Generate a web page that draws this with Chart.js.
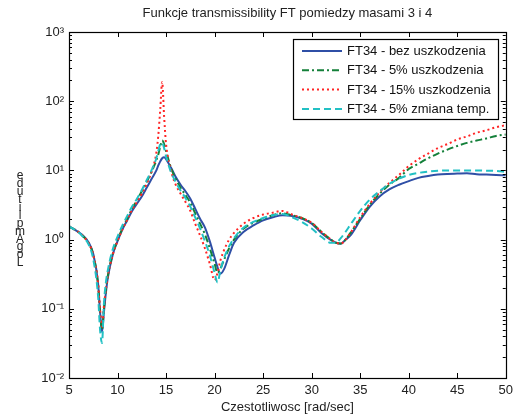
<!DOCTYPE html>
<html>
<head>
<meta charset="utf-8">
<script src="https://cdn.jsdelivr.net/npm/chart.js@4/dist/chart.umd.min.js"></script>
<style>
  body { margin: 0; background: #fff; }
  #wrap { width: 518px; height: 415px; }
</style>
</head>
<body>
<div id="wrap"><canvas id="_canvasc" width="518" height="415"></canvas></div>
<script>
	// ******************************************************** DATA

	var freq = [5, 5.5, 6, 6.5, 7, 7.5, 8, 8.2, 8.4, 8.6, 8.8, 9, 9.5, 10, 10.5, 11, 11.5, 12, 12.5, 13, 13.5, 14,
		14.2, 14.4, 14.6, 14.8, 15, 15.5, 16, 16.5, 17, 17.5, 18, 18.5, 19, 19.5, 20, 20.3, 20.6, 21, 21.5, 22,
		23, 24, 25, 26, 27, 28, 29, 30, 31, 32, 32.5, 33, 33.5, 34, 35, 36, 37, 38, 39, 40, 41, 42, 43, 44, 45,
		46, 47, 48, 49, 50];

	var ftBez = [1.55, 1.42, 1.28, 1.12, 0.92, 0.62, 0.23, 0.09, 0.046, 0.09, 0.17, 0.28, 0.6, 0.95, 1.4, 1.9, 2.6, 3.3, 4.2, 5.6, 7.5, 10,
		11.8, 13.5, 15, 15.5, 14.5, 11, 8, 6.2, 5, 3.9, 2.8, 2.0, 1.5, 0.95, 0.55, 0.4, 0.32, 0.38, 0.6, 0.9,
		1.3, 1.6, 1.9, 2.1, 2.25, 2.2, 2.0, 1.7, 1.25, 0.98, 0.9, 0.87, 1.0, 1.15, 1.9, 3.0, 4.2, 5.3, 6.2, 7.0, 7.8, 8.3, 8.7, 8.9, 9.0,
		9.1, 8.8, 8.7, 8.6, 8.5];

	var ft5 = [1.55, 1.42, 1.28, 1.1, 0.9, 0.6, 0.22, 0.09, 0.05, 0.1, 0.19, 0.3, 0.62, 0.98, 1.45, 2.0, 2.8, 3.7, 5.0, 6.8, 9.5, 14,
		17, 22, 27, 24, 19, 11, 7.5, 5.6, 4.4, 3.4, 2.4, 1.7, 1.2, 0.75, 0.45, 0.33, 0.38, 0.52, 0.75, 1.0,
		1.45, 1.75, 2.0, 2.25, 2.4, 2.25, 2.05, 1.75, 1.3, 1.0, 0.9, 0.88, 1.0, 1.25, 2.0, 3.2, 4.6, 6.2, 7.8, 10.5, 12.5, 15, 17.5, 20, 22.5,
		25, 27, 29, 31.5, 33];

	var ft15 = [1.55, 1.42, 1.28, 1.1, 0.9, 0.6, 0.23, 0.1, 0.055, 0.11, 0.19, 0.3, 0.6, 0.95, 1.4, 1.95, 2.7, 3.5, 4.6, 6.4, 9.5, 18,
		32, 75, 190, 60, 24, 10, 6.2, 4.6, 3.5, 2.6, 1.7, 1.15, 0.75, 0.45, 0.26, 0.33, 0.5, 0.72, 1.0, 1.25,
		1.7, 2.05, 2.3, 2.45, 2.6, 2.3, 2.05, 1.75, 1.3, 1.0, 0.9, 0.88, 1.0, 1.25, 2.1, 3.3, 4.8, 6.6, 8.6, 11.5, 14.5, 17.5, 21, 24, 28,
		31, 35, 38, 42, 45];

	var ftTemp = [1.55, 1.42, 1.27, 1.08, 0.86, 0.52, 0.15, 0.05, 0.032, 0.12, 0.24, 0.36, 0.72, 1.1, 1.6, 2.2, 3.0, 3.9, 5.2, 7.2, 10, 15,
		19, 24, 25, 21, 16, 9.5, 6.8, 5.1, 4.0, 3.0, 2.1, 1.45, 0.95, 0.6, 0.33, 0.24, 0.36, 0.55, 0.8, 1.05,
		1.5, 1.8, 2.05, 2.25, 2.35, 2.1, 1.8, 1.45, 1.1, 0.9, 0.9, 1.05, 1.3, 1.65, 2.6, 3.8, 5.0, 6.4, 7.6, 8.6, 9.2, 9.6, 9.9, 10, 10,
		10, 10, 9.9, 9.8, 9.5];

	var seriesNames = ["FT34 - bez uszkodzenia", "FT34 - 5% uszkodzenia", "FT34 - 15% uszkodzenia", "FT34 - 5% zmiana temp."];
	var xTicks = [5, 10, 15, 20, 25, 30, 35, 40, 45, 50];
	var yDecades = [-2, -1, 0, 1, 2, 3];

	var chartTitle = "Funkcje transmissibility FT pomiedzy masami 3 i 4";
	var xTitle = "Czestotliwosc [rad/sec]";
	var yTitle = "Log Amplitude";

	// ******************************************************** HELPERS

	var FONT = "'Liberation Sans', Arial, sans-serif";
	var SUP = {"0": "\u2070", "1": "\u00b9", "2": "\u00b2", "3": "\u00b3", "-": "\u207b"};

	function pts(vals) {
		return freq.map(function (f, i) { return {x: f, y: vals[i]}; });
	}

	function supText(n) {
		return String(n).split("").map(function (c) { return SUP[c]; }).join("");
	}

	// ticks inside the frame, frame, title, y label and legend box
	var matlabLook = {
		id: 'matlabLook',
		afterDatasetsDraw: function (chart) {
			var ctx = chart.ctx, a = chart.chartArea;
			var xs = chart.scales.x, ys = chart.scales.y;
			ctx.save();
			ctx.strokeStyle = '#000';
			ctx.lineWidth = 1;
			ctx.beginPath();
			xTicks.forEach(function (t) {
				var px = Math.round(xs.getPixelForValue(t)) + 0.5;
				ctx.moveTo(px, a.bottom); ctx.lineTo(px, a.bottom - 5);
				ctx.moveTo(px, a.top); ctx.lineTo(px, a.top + 5);
			});
			yDecades.forEach(function (d) {
				for (var m = 1; m <= 9; m++) {
					if (d === 3 && m > 1) break;
					var py = Math.round(ys.getPixelForValue(m * Math.pow(10, d))) + 0.5;
					var len = m === 1 ? 5 : 3;
					ctx.moveTo(a.left, py); ctx.lineTo(a.left + len, py);
					ctx.moveTo(a.right, py); ctx.lineTo(a.right - len, py);
				}
			});
			ctx.stroke();
			ctx.lineWidth = 1.2;
			ctx.strokeRect(Math.round(a.left) + 0.5, Math.round(a.top) + 0.5,
				Math.round(a.right - a.left), Math.round(a.bottom - a.top));

			// title
			ctx.fillStyle = '#222';
			ctx.font = '13px ' + FONT;
			ctx.textAlign = 'center';
			ctx.textBaseline = 'middle';
			ctx.fillText(chartTitle, (a.left + a.right) / 2, 13);

			// stacked y label (letters upright, read bottom to top)
			ctx.font = '12px ' + FONT;
			var letters = yTitle.replace(/ /g, '').split('').reverse();
			letters.forEach(function (ch, i) {
				ctx.fillText(ch, 20, 176 + i * 7.9);
			});

			// legend
			var lx = 293, ly = 39, lw = 205, lh = 80;
			ctx.fillStyle = '#fff';
			ctx.fillRect(lx, ly, lw, lh);
			ctx.strokeStyle = '#000';
			ctx.lineWidth = 1.2;
			ctx.strokeRect(lx + 0.5, ly + 0.5, lw, lh);
			ctx.textAlign = 'left';
			ctx.font = '13px ' + FONT;
			chart.data.datasets.forEach(function (ds, i) {
				var ry = 51 + i * 19.3;
				ctx.strokeStyle = ds.borderColor;
				ctx.lineWidth = ds.borderWidth;
				ctx.setLineDash(ds.borderDash || []);
				ctx.beginPath();
				ctx.moveTo(302, ry); ctx.lineTo(342, ry);
				ctx.stroke();
				ctx.setLineDash([]);
				ctx.fillStyle = '#111';
				ctx.fillText(ds.label, 347, ry + 0.5);
			});
			ctx.restore();
		}
	};

	// ******************************************************** CHART

	var _ctxc = document.getElementById("_canvasc").getContext("2d");

	window.myChart = new Chart(_ctxc, {
		type: 'line',
		data: {
			datasets: [{
				label: seriesNames[0], data: pts(ftBez),
				borderColor: '#2f4fa6', borderWidth: 2, order: 4
			}, {
				label: seriesNames[1], data: pts(ft5),
				borderColor: '#14803a', borderWidth: 2, borderDash: [7, 3, 2, 3], order: 3
			}, {
				label: seriesNames[2], data: pts(ft15),
				borderColor: '#ff2424', borderWidth: 2, borderDash: [2, 3], order: 2
			}, {
				label: seriesNames[3], data: pts(ftTemp),
				borderColor: '#22c0c4', borderWidth: 2, borderDash: [7, 4], order: 1
			}]
		},
		options: {
			responsive: false,
			animation: false,
			events: [],
			cubicInterpolationMode: 'monotone',
			elements: { point: { radius: 0 } },
			layout: { padding: { top: 32, right: 9, left: 0, bottom: 0 } },
			plugins: { legend: { display: false }, title: { display: false }, tooltip: { enabled: false } },
			scales: {
				x: {
					type: 'linear', min: 5, max: 50,
					afterFit: function (s) { s.height = 37; },
					afterBuildTicks: function (s) { s.ticks = xTicks.map(function (v) { return {value: v}; }); },
					grid: { display: false, drawTicks: false },
					border: { display: false },
					ticks: { color: '#222', padding: 5, font: { family: FONT, size: 13 }, maxRotation: 0, autoSkip: false },
					title: { display: true, text: xTitle, color: '#222', padding: { top: 0, bottom: 0 }, font: { family: FONT, size: 13 } }
				},
				y: {
					type: 'logarithmic', min: 0.01, max: 1000,
					afterFit: function (s) { s.width = 69; },
					afterBuildTicks: function (s) { s.ticks = yDecades.map(function (d) { return {value: Math.pow(10, d)}; }); },
					grid: { display: false, drawTicks: false },
					border: { display: false },
					ticks: {
						color: '#222', padding: 5, autoSkip: false, font: { family: FONT, size: 13 },
						callback: function (v) { return '10' + supText(Math.round(Math.log10(v))); }
					}
				}
			}
		},
		plugins: [matlabLook]
	});
</script>
</body>
</html>
